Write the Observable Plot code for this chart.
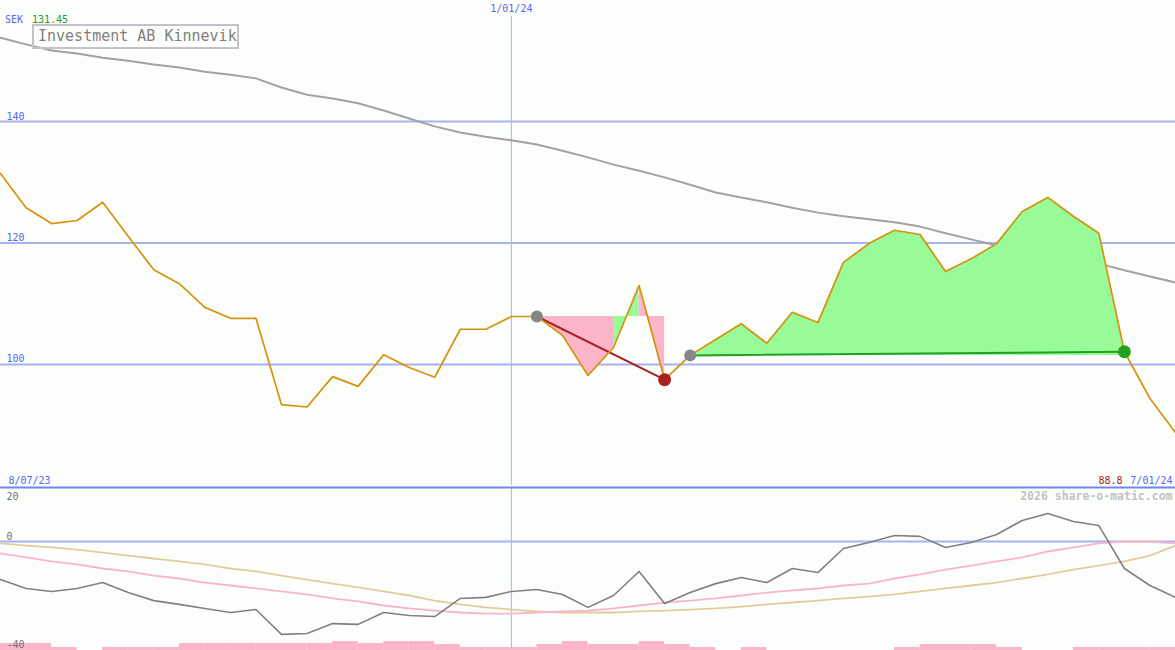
<!DOCTYPE html>
<html>
<head>
<meta charset="utf-8">
<script src="https://cdn.jsdelivr.net/npm/d3@7"></script>
<script src="https://cdn.jsdelivr.net/npm/@observablehq/plot@0.6"></script>
<style>
  body { margin: 0; background: #fcfefc; }
  #wrap { position: relative; width: 1175px; height: 650px; overflow: hidden; background: #fcfefc;
          font-family: "DejaVu Sans Mono", monospace; }
  #wrap svg { position: absolute; left: 0; }
  #title { position: absolute; left: 32px; top: 24px; width: 207px; height: 25px; box-sizing: border-box;
           border: 2px solid #c4c2c8; color: #808080; font-size: 15px; line-height: 20px; padding-left: 4px;
           white-space: nowrap; }
  .lbl { position: absolute; top: 14px; font-size: 10px; line-height: 12px; }
</style>
</head>
<body>
<div id="wrap"></div>
<script>
// ---------- data ----------
const dates = [
  "2023-08-14","2023-08-21","2023-08-28","2023-09-04","2023-09-11","2023-09-18","2023-09-25",
  "2023-10-02","2023-10-09","2023-10-16","2023-10-23","2023-10-30","2023-11-06","2023-11-13",
  "2023-11-20","2023-11-27","2023-12-04","2023-12-11","2023-12-18","2023-12-25","2024-01-01",
  "2024-01-08","2024-01-15","2024-01-22","2024-01-29","2024-02-05","2024-02-12","2024-02-19",
  "2024-02-26","2024-03-04","2024-03-11","2024-03-18","2024-03-25","2024-04-01","2024-04-08",
  "2024-04-15","2024-04-22","2024-04-29","2024-05-06","2024-05-13","2024-05-20","2024-05-27",
  "2024-06-03","2024-06-10","2024-06-17","2024-06-24","2024-07-01"
];
const price = [
  131.45,125.8,123.2,123.7,126.7,121.1,115.6,113.3,109.4,107.6,107.6,93.4,93.0,98.0,96.4,101.6,
  99.5,97.9,105.8,105.8,107.9,107.9,104.8,98.2,102.8,113.0,97.5,101.5,104.1,106.7,103.5,108.6,
  106.9,116.8,119.9,122.1,121.4,115.3,117.4,119.9,125.2,127.5,124.4,121.6,102.1,94.4,88.8
];
const movingAvg = [
  153.8,152.7,151.7,151.2,150.5,150.0,149.4,148.9,148.2,147.7,147.1,145.6,144.4,143.8,143.0,141.8,
  140.5,139.2,138.2,137.5,136.9,136.2,135.2,134.1,132.9,131.9,130.8,129.6,128.3,127.5,126.7,125.8,
  125.0,124.4,123.9,123.4,122.7,121.6,120.6,119.6,118.8,118.1,117.4,116.6,115.5,114.5,113.5
];
const oscMomentum = [
  -14.1,-17.4,-18.5,-17.4,-15.2,-18.9,-21.9,-23.3,-24.8,-26.3,-25.2,-34.4,-34.1,-30.4,-30.7,-26.3,
  -27.4,-27.8,-21.1,-20.7,-18.5,-17.8,-19.6,-24.4,-20.0,-11.1,-23.0,-18.9,-15.6,-13.3,-15.2,-10.0,
  -11.5,-2.6,-0.4,2.2,1.9,-2.2,-0.4,2.6,7.8,10.4,7.4,5.9,-10.0,-16.3,-20.7
];
const oscFast = [
  -4.4,-5.9,-7.4,-8.5,-10.0,-11.1,-12.6,-13.7,-15.2,-16.3,-17.4,-18.5,-19.6,-21.1,-22.2,-23.7,
  -24.8,-25.6,-26.3,-26.7,-26.7,-26.3,-25.9,-25.6,-24.8,-23.7,-22.6,-21.9,-21.1,-20.0,-18.9,-18.1,
  -17.4,-16.3,-15.6,-13.7,-12.2,-10.4,-8.9,-7.4,-5.9,-3.7,-2.2,-0.7,0.0,0.0,-0.7
];
const oscSlow = [
  -0.7,-1.5,-2.2,-3.0,-4.1,-5.2,-6.3,-7.4,-8.5,-10.0,-11.1,-12.6,-14.1,-15.6,-17.0,-18.5,
  -20.0,-21.9,-23.3,-24.4,-25.2,-25.9,-26.3,-26.3,-26.3,-25.9,-25.6,-25.2,-24.8,-24.1,-23.3,-22.6,
  -21.9,-21.1,-20.4,-19.6,-18.5,-17.4,-16.3,-15.2,-13.7,-12.2,-10.4,-8.9,-7.4,-5.2,-1.5
];
// relative weekly volume, one bar per week interval
const volume = [
  7,7,3,0,3,3,3,7,7,7,7,7,7,9,7,9,9,6,3,3,3,6,9,6,6,9,6,3,0,3,0,0,0,0,0,3,6,6,6,3,0,0,3,3,3,3
];
const tradeEntryDates = ["2024-01-08","2024-02-19"];
const tradeExitDates  = ["2024-02-12","2024-06-17"];
const tradeOutcome    = ["loss","gain"];
const trade1SegmentTone = ["down","down","down","up","down"];
const trade2SegmentTone = "up";

const priceTicks = [100,120,140];
const oscTicks = [0,-40];
const oscTopTick = [20];
const markerDates = ["2024-01-01"];
const markerLabels = ["1/01/24"];
const startLabel = "8/07/23";
const endLabel = "7/01/24";
const lastPriceLabel = "88.8";
const firstPriceLabel = "131.45";
const currencyLabel = "SEK";
const titleText = "Investment AB Kinnevik";
const creditText = "2026 share-o-matic.com";

// ---------- styling ----------
const BLUE = "#5866f0", GRID = "#a6b2f2", DIVIDER = "#7484ea";
const ORANGE = "#d6920e", MA = "#a2a2a2";
const PINKF = "#fbb4c8", GREENF = "#98fb98";
const RED = "#a82222", GREEN = "#22a022", GREYM = "#868686";
const FONT = "DejaVu Sans Mono";

const parse = d3.utcParse("%Y-%m-%d");
const rows = dates.map((d, i) => ({
  date: parse(d), price: price[i], ma: movingAvg[i],
  mom: oscMomentum[i], fast: oscFast[i], slow: oscSlow[i]
}));
const xDomain = [rows[0].date, rows[rows.length - 1].date];

// trade fills (runs of same tone form one polygon), lines and markers
const fillRows = [], tradeLineRows = [], entryDots = [], exitDots = [];
tradeEntryDates.forEach((ed, t) => {
  const a = dates.indexOf(ed), b = dates.indexOf(tradeExitDates[t]);
  const level = price[a];
  let runId = 0, prevTone = null;
  for (let k = a; k < b; k++) {
    const tone = t === 0 ? trade1SegmentTone[k - a] : trade2SegmentTone;
    const col = tone === "up" ? GREENF : PINKF;
    if (tone !== prevTone) {
      runId++;
      fillRows.push({seg: t + "-" + runId, date: rows[k].date, level, price: price[k], col});
    }
    fillRows.push({seg: t + "-" + runId, date: rows[k + 1].date, level, price: price[k + 1], col});
    prevTone = tone;
  }
  const lc = tradeOutcome[t] === "gain" ? GREEN : RED;
  tradeLineRows.push({t, date: rows[a].date, v: price[a], col: lc}, {t, date: rows[b].date, v: price[b], col: lc});
  entryDots.push({date: rows[a].date, v: price[a]});
  exitDots.push({date: rows[b].date, v: price[b], col: lc});
});

const volRows = volume.map((v, j) => ({x1: rows[j].date, x2: rows[j + 1].date, v}));

const wrap = document.getElementById("wrap");

// ---------- main price panel ----------
const main = Plot.plot({
  width: 1175, height: 485, margin: 0,
  style: {background: "transparent", fontFamily: FONT, fontSize: "10px", overflow: "visible"},
  x: {type: "utc", domain: xDomain, axis: null},
  y: {domain: [80.08, 159.92], axis: null},
  color: {type: "identity"},
  marks: [
    Plot.ruleY(priceTicks, {stroke: GRID, strokeWidth: 2}),
    Plot.ruleX(markerDates, {x: d => parse(d), stroke: GRID, strokeWidth: 1, insetTop: 16}),
    Plot.text(priceTicks, {y: d => d, text: d => String(d), frameAnchor: "left", textAnchor: "start",
      lineAnchor: "bottom", dx: 6, dy: -2, fill: BLUE, fontSize: 10}),
    Plot.text(markerDates, {x: d => parse(d), text: (d, i) => markerLabels[i], frameAnchor: "top",
      lineAnchor: "top", dy: 4, fill: BLUE, fontSize: 10}),
    Plot.line(rows, {x: "date", y: "ma", stroke: MA, strokeWidth: 2}),
    Plot.areaY(fillRows, {x: "date", y1: "level", y2: "price", z: "seg", fill: "col"}),
    Plot.line(tradeLineRows, {x: "date", y: "v", z: "t", stroke: "col", strokeWidth: 2}),
    Plot.line(rows, {x: "date", y: "price", stroke: ORANGE, strokeWidth: 1.7}),
    Plot.dot(entryDots, {x: "date", y: "v", r: 6, fill: GREYM}),
    Plot.dot(exitDots, {x: "date", y: "v", r: 6.5, fill: "col"}),
    Plot.text([startLabel], {frameAnchor: "bottom-left", textAnchor: "start", lineAnchor: "bottom",
      dx: 8, dy: -2, fill: BLUE, fontSize: 10}),
    Plot.text([endLabel], {frameAnchor: "bottom-right", textAnchor: "end", lineAnchor: "bottom",
      dx: -3, dy: -2, fill: BLUE, fontSize: 10}),
    Plot.text([lastPriceLabel], {frameAnchor: "bottom-right", textAnchor: "end", lineAnchor: "bottom",
      dx: -53, dy: -2, fill: RED, fontSize: 10})
  ]
});
main.style.top = "0px";
wrap.appendChild(main);

// ---------- volume strip ----------
const vol = Plot.plot({
  width: 1175, height: 20, margin: 0,
  style: {background: "transparent"},
  x: {type: "utc", domain: xDomain, axis: null},
  y: {domain: [0, 20], axis: null},
  marks: [
    Plot.rectY(volRows, {x1: "x1", x2: "x2", y: "v", fill: PINKF, inset: 0})
  ]
});
vol.style.top = "630px";
wrap.appendChild(vol);

// ---------- oscillator panel ----------
const osc = Plot.plot({
  width: 1175, height: 165, marginTop: 2, marginBottom: 1, marginLeft: 0, marginRight: 0,
  style: {background: "transparent", fontFamily: FONT, fontSize: "10px", overflow: "visible"},
  x: {type: "utc", domain: xDomain, axis: null},
  y: {domain: [-40, 20], axis: null},
  marks: [
    Plot.ruleY([0], {stroke: GRID, strokeWidth: 2}),
    Plot.ruleX(markerDates, {x: d => parse(d), stroke: GRID, strokeWidth: 1}),
    Plot.ruleY(oscTopTick, {stroke: DIVIDER, strokeWidth: 2.2}),
    Plot.text(oscTicks, {y: d => d, text: d => String(d), frameAnchor: "left", textAnchor: "start",
      lineAnchor: "bottom", dx: 6, dy: -2, fill: "#707070", fontSize: 10}),
    Plot.text(oscTopTick, {y: d => d, text: d => String(d), frameAnchor: "left", textAnchor: "start",
      lineAnchor: "top", dx: 6, dy: 5, fill: "#707070", fontSize: 10}),
    Plot.text([creditText], {frameAnchor: "top-right", textAnchor: "end", lineAnchor: "top",
      dx: -3, dy: 4, fill: "#c2c2c2", fontSize: 11.5, fontWeight: "bold"}),
    Plot.line(rows, {x: "date", y: "slow", stroke: "#e2cc9c", strokeWidth: 1.8}),
    Plot.line(rows, {x: "date", y: "fast", stroke: "#f8b4c8", strokeWidth: 1.8}),
    Plot.line(rows, {x: "date", y: "mom", stroke: "#808080", strokeWidth: 1.6})
  ]
});
osc.style.top = "485px";
wrap.appendChild(osc);

// ---------- title and header labels ----------
const title = document.createElement("div");
title.id = "title";
title.textContent = titleText;
wrap.appendChild(title);

const cur = document.createElement("div");
cur.className = "lbl"; cur.style.left = "5px"; cur.style.color = BLUE; cur.textContent = currencyLabel;
wrap.appendChild(cur);
const fp = document.createElement("div");
fp.className = "lbl"; fp.style.left = "32px"; fp.style.color = GREEN; fp.textContent = firstPriceLabel;
wrap.appendChild(fp);
</script>
</body>
</html>
